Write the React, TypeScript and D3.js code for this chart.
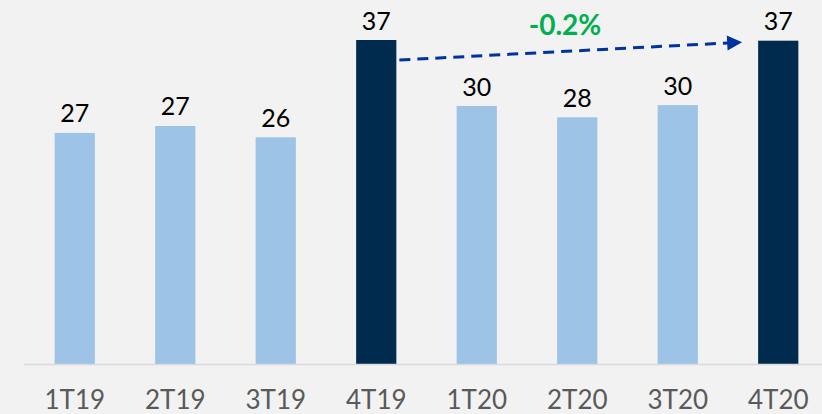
import React from "react";
import * as d3 from "d3";

// Quarterly values (labels show them rounded)
const categories = ["1T19", "2T19", "3T19", "4T19", "1T20", "2T20", "3T20", "4T20"];
const values = [26.6, 27.4, 26.1, 37.3, 29.7, 28.4, 29.8, 37.22];
const highlighted = ["4T19", "4T20"];
const changeLabel = "-0.2%";

const W = 822;
const H = 414;
const baseY = 364;

export default function App() {
  const x = d3
    .scaleBand<string>()
    .domain(categories)
    .range([24.5, 828.5])
    .paddingInner(0.6)
    .paddingOuter(0.3);

  const y = d3.scaleLinear().domain([0, d3.max(values) as number]).range([baseY, 40]);

  const font = "Lato, 'Open Sans', sans-serif";
  const fmt = d3.format(".0f");

  // arrow between the two highlighted quarters
  const a0 = highlighted[0];
  const a1 = highlighted[1];
  const v0 = values[categories.indexOf(a0)];
  const v1 = values[categories.indexOf(a1)];
  const sx = (x(a0) as number) + x.bandwidth() + 3;
  const sy = y(v0) + 20;
  const ex = (x(a1) as number) - 16;
  const ey = y(v1) + 1.5;
  const ang = Math.atan2(ey - sy, ex - sx);
  const headLen = 15;
  const headHalf = 7.5;
  const bx = ex - headLen * Math.cos(ang);
  const by = ey - headLen * Math.sin(ang);
  const px = -Math.sin(ang) * headHalf;
  const py = Math.cos(ang) * headHalf;
  const lineEndX = bx + 1 * Math.cos(ang);
  const lineEndY = by + 1 * Math.sin(ang);

  return (
    <svg
      width={W}
      height={H}
      style={{ position: "absolute", left: 0, top: 0, display: "block" }}
    >
      <rect x={0} y={0} width={W} height={H} fill="#F2F2F2" />
      {categories.map((c, i) => (
        <rect
          key={c}
          x={x(c)}
          y={y(values[i])}
          width={x.bandwidth()}
          height={baseY - y(values[i])}
          fill={highlighted.includes(c) ? "#002B4E" : "#9DC3E6"}
        />
      ))}
      <line x1={24} x2={W} y1={baseY + 0.5} y2={baseY + 0.5} stroke="#D9D9D9" strokeWidth={1.5} />
      {categories.map((c, i) => (
        <text
          key={"v" + c}
          x={(x(c) as number) + x.bandwidth() / 2}
          y={y(values[i]) - 10.5}
          textAnchor="middle"
          fontFamily={font}
          fontSize={25}
          fill="#000000"
        >
          {fmt(values[i])}
        </text>
      ))}
      {categories.map((c) => (
        <text
          key={"c" + c}
          x={(x(c) as number) + x.bandwidth() / 2}
          y={408.5}
          textAnchor="middle"
          fontFamily={font}
          fontSize={26}
          fill="#595959"
        >
          {c}
        </text>
      ))}
      <line
        x1={sx}
        y1={sy}
        x2={lineEndX}
        y2={lineEndY}
        stroke="#0033A0"
        strokeWidth={3}
        strokeDasharray="11 7"
      />
      <polygon
        points={`${ex},${ey} ${bx + px},${by + py} ${bx - px},${by - py}`}
        fill="#0033A0"
      />
      <text
        x={565}
        y={34.5}
        textAnchor="middle"
        fontFamily={font}
        fontSize={28}
        fontWeight="bold"
        fill="#00B050"
      >
        {changeLabel}
      </text>
    </svg>
  );
}
